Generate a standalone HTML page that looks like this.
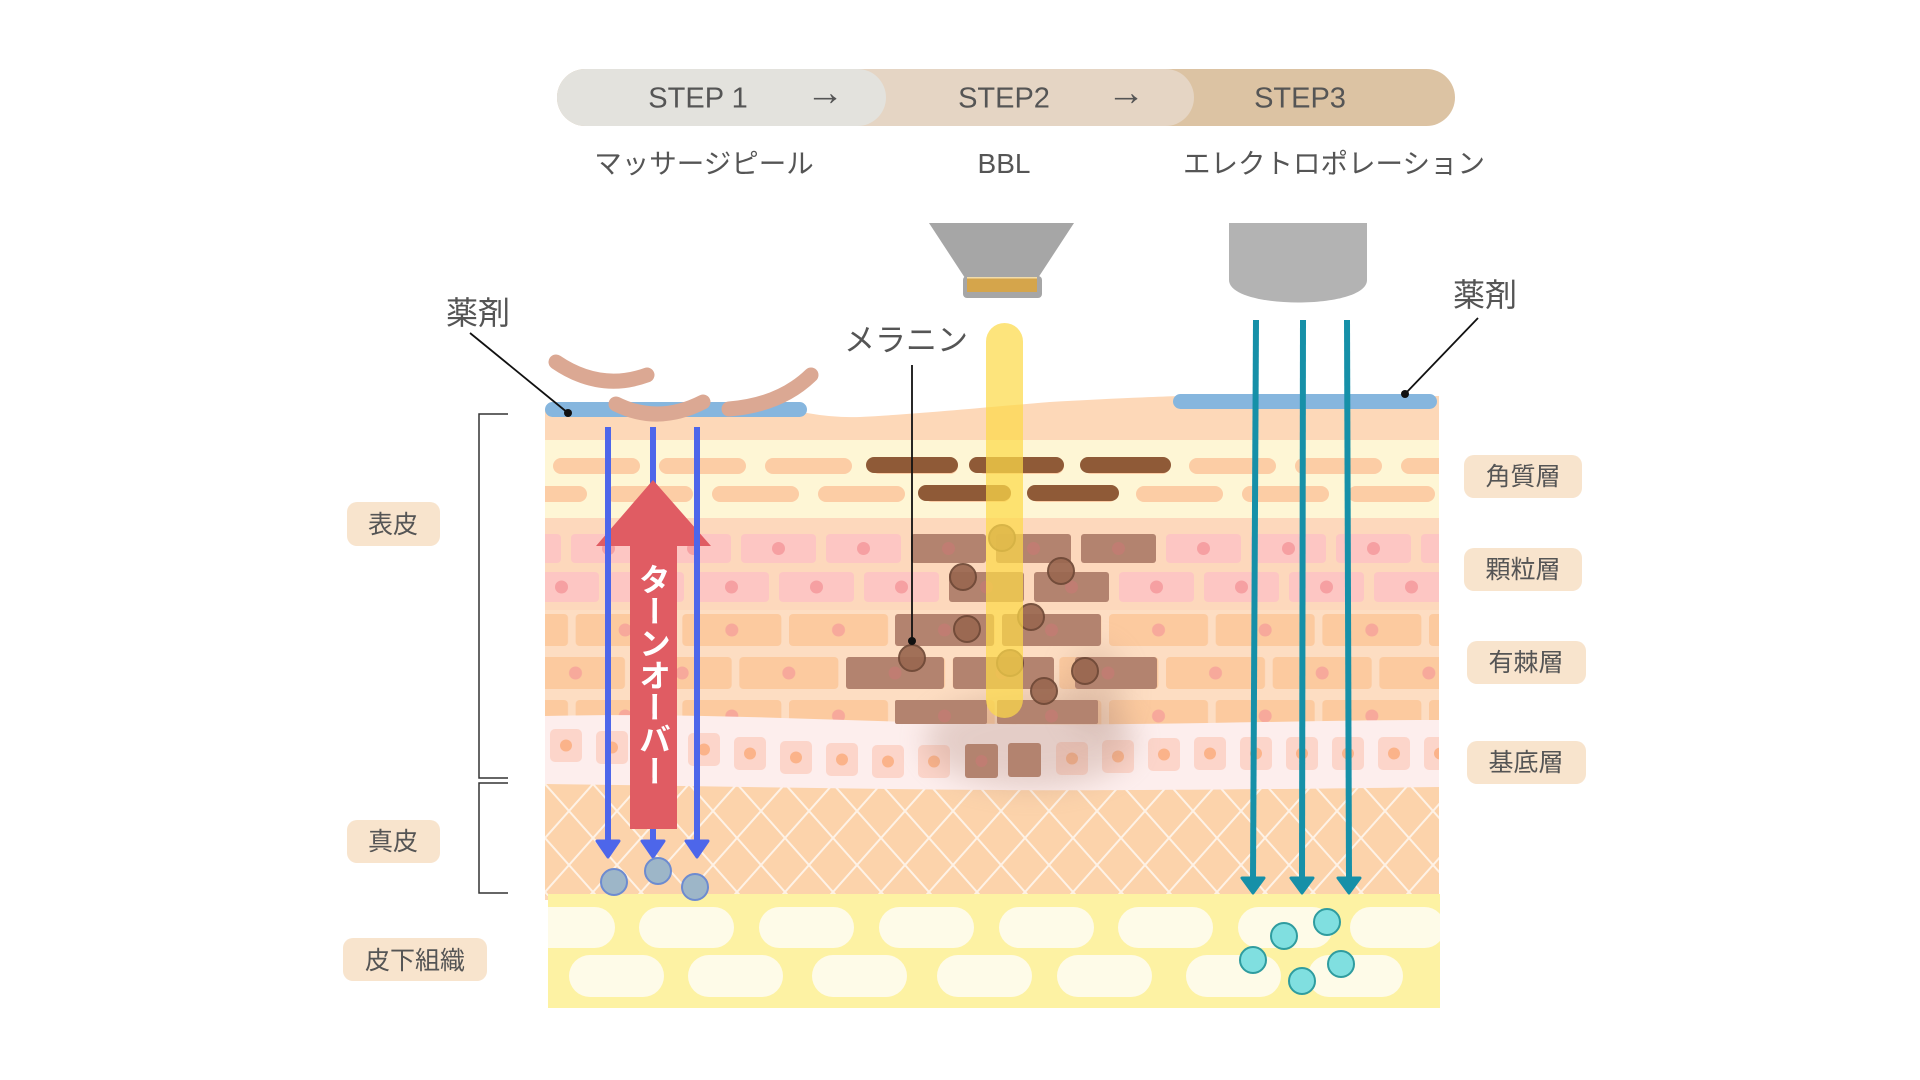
<!DOCTYPE html>
<html><head><meta charset="utf-8">
<style>
html,body{margin:0;padding:0;background:#fff;}
body{width:1920px;height:1080px;overflow:hidden;position:relative;}
svg{position:absolute;left:0;top:0;}
.vt{position:absolute;left:637px;top:563px;width:32px;line-height:32.5px;writing-mode:vertical-rl;font-family:"Liberation Sans","Noto Sans CJK JP",sans-serif;font-weight:bold;font-size:32px;color:#fff;}
</style></head>
<body>
<svg width="1920" height="1080" viewBox="0 0 1920 1080" font-family="'Liberation Sans','Noto Sans CJK JP',sans-serif">
<defs>
  <pattern id="c1" patternUnits="userSpaceOnUse" x="553" y="458" width="106" height="16"><rect x="0" y="0" width="87" height="16" rx="8" fill="#fccda5"/></pattern>
  <pattern id="c2" patternUnits="userSpaceOnUse" x="500" y="486" width="106" height="16"><rect x="0" y="0" width="87" height="16" rx="8" fill="#fccda5"/></pattern>
  <pattern id="g1" patternUnits="userSpaceOnUse" x="486" y="534" width="85" height="29"><rect x="0" y="0" width="75" height="29" rx="4" fill="#fdc6c3"/><circle cx="37.5" cy="14.5" r="6.5" fill="#f6a0a2"/></pattern>
  <pattern id="g2" patternUnits="userSpaceOnUse" x="524" y="572" width="85" height="30"><rect x="0" y="0" width="75" height="30" rx="4" fill="#fdc6c3"/><circle cx="37.5" cy="15" r="6.5" fill="#f6a0a2"/></pattern>
  <pattern id="s3" patternUnits="userSpaceOnUse" x="469" y="614" width="106.67" height="32"><rect x="0" y="0" width="99" height="32" rx="4" fill="#fcca9f"/><circle cx="49.5" cy="16" r="6.5" fill="#f7a99b"/></pattern>
  <pattern id="s4" patternUnits="userSpaceOnUse" x="526" y="657" width="106.67" height="32"><rect x="0" y="0" width="99" height="32" rx="4" fill="#fcca9f"/><circle cx="49.5" cy="16" r="6.5" fill="#f7a99b"/></pattern>
  <pattern id="s5" patternUnits="userSpaceOnUse" x="469" y="700" width="106.67" height="32"><rect x="0" y="0" width="99" height="32" rx="4" fill="#fcca9f"/><circle cx="49.5" cy="16" r="6.5" fill="#f7a99b"/></pattern>
  <pattern id="lat" patternUnits="userSpaceOnUse" x="545" y="784" width="48" height="54"><path d="M0,0 L48,54 M48,0 L0,54" stroke="#fff" stroke-width="2" opacity="0.7" fill="none"/></pattern>
  <clipPath id="skin"><path d="M545,409 L807,413 Q835,418 860,417 C920,414 1000,406 1050,402 C1100,399 1150,397 1180,396 L1439,396 L1439,900 L545,900 Z"/></clipPath>
  <clipPath id="sub"><rect x="548" y="894" width="892" height="114"/></clipPath>
  <filter id="blur" x="-50%" y="-50%" width="200%" height="200%"><feGaussianBlur stdDeviation="14"/></filter>
</defs>

<!-- STEP bar -->
<rect x="557" y="69" width="898" height="57" rx="28.5" fill="#dcc3a3"/>
<rect x="557" y="69" width="637" height="57" rx="28.5" fill="#e5d5c4"/>
<rect x="557" y="69" width="329" height="57" rx="28.5" fill="#e3e2dd"/>
<g fill="#555" font-size="29" text-anchor="middle">
  <text x="698" y="107.5">STEP 1</text>
  <text x="825" y="105" font-size="38">→</text>
  <text x="1004" y="107.5">STEP2</text>
  <text x="1126" y="105" font-size="38">→</text>
  <text x="1300" y="107.5">STEP3</text>
</g>
<g fill="#555" text-anchor="middle">
  <text x="704" y="173" font-size="27.5">マッサージピール</text>
  <text x="1004" y="173" font-size="28">BBL</text>
  <text x="1334" y="173" font-size="27.5">エレクトロポレーション</text>
</g>

<!-- Devices -->
<polygon points="929,223 1074,223 1038,278 965,278" fill="#a6a6a6"/>
<rect x="963" y="276" width="79" height="22" rx="4" fill="#a6a6a6"/>
<rect x="967" y="277" width="70" height="15" fill="#d5a54b"/>
<rect x="967" y="277" width="70" height="1.5" fill="#f2dca8"/>
<path d="M1229,223 L1367,223 L1367,280 C1367,310 1229,310 1229,280 Z" fill="#b3b3b3"/>

<!-- Skin -->
<g clip-path="url(#skin)">
  <rect x="545" y="390" width="894" height="510" fill="#fdd8b8"/>
  <rect x="545" y="440" width="894" height="78" fill="#fef6d5"/>
  <rect x="545" y="458" width="894" height="16" fill="url(#c1)"/>
  <rect x="545" y="486" width="894" height="16" fill="url(#c2)"/>
  <rect x="545" y="518" width="894" height="92" fill="#fdd8bc"/>
  <rect x="545" y="610" width="894" height="130" fill="#fdddc2"/>
  <rect x="545" y="534" width="894" height="29" fill="url(#g1)"/>
  <rect x="545" y="572" width="894" height="30" fill="url(#g2)"/>
  <rect x="545" y="614" width="894" height="32" fill="url(#s3)"/>
  <rect x="545" y="657" width="894" height="32" fill="url(#s4)"/>
  <rect x="545" y="700" width="894" height="32" fill="url(#s5)"/>
  <!-- dermis -->
  <rect x="545" y="775" width="894" height="121" fill="#fcd3ab"/>
  <rect x="545" y="775" width="894" height="121" fill="url(#lat)"/>
  <!-- basal band -->
  <path d="M545,716 C700,712 850,722 1000,724 C1150,726 1300,720 1439,720 L1439,787 C1300,789 1100,791 1000,790 C850,789 700,786 545,784 Z" fill="#fdeeed"/>
  <g fill="#fcd5ca">
    <rect x="550" y="729" width="32" height="33" rx="5"/>
    <rect x="596" y="731" width="32" height="33" rx="5"/>
    <rect x="642" y="732" width="32" height="33" rx="5"/>
    <rect x="688" y="733" width="32" height="33" rx="5"/>
    <rect x="734" y="737" width="32" height="33" rx="5"/>
    <rect x="780" y="741" width="32" height="33" rx="5"/>
    <rect x="826" y="743" width="32" height="33" rx="5"/>
    <rect x="872" y="745" width="32" height="33" rx="5"/>
    <rect x="918" y="745" width="32" height="33" rx="5"/>
    <rect x="1056" y="742" width="32" height="33" rx="5"/>
    <rect x="1102" y="740" width="32" height="33" rx="5"/>
    <rect x="1148" y="738" width="32" height="33" rx="5"/>
    <rect x="1194" y="737" width="32" height="33" rx="5"/>
    <rect x="1240" y="737" width="32" height="33" rx="5"/>
    <rect x="1286" y="737" width="32" height="33" rx="5"/>
    <rect x="1332" y="737" width="32" height="33" rx="5"/>
    <rect x="1378" y="737" width="32" height="33" rx="5"/>
    <rect x="1424" y="737" width="32" height="33" rx="5"/>
  </g>
  <g fill="#fbb38a">
    <circle cx="566" cy="745.5" r="6"/><circle cx="612" cy="747.5" r="6"/><circle cx="658" cy="748.5" r="6"/>
    <circle cx="704" cy="749.5" r="6"/><circle cx="750" cy="753.5" r="6"/><circle cx="796" cy="757.5" r="6"/>
    <circle cx="842" cy="759.5" r="6"/><circle cx="888" cy="761.5" r="6"/><circle cx="934" cy="761.5" r="6"/>
    <circle cx="1072" cy="758.5" r="6"/><circle cx="1118" cy="756.5" r="6"/><circle cx="1164" cy="754.5" r="6"/>
    <circle cx="1210" cy="753.5" r="6"/><circle cx="1256" cy="753.5" r="6"/><circle cx="1302" cy="753.5" r="6"/>
    <circle cx="1348" cy="753.5" r="6"/><circle cx="1394" cy="753.5" r="6"/><circle cx="1440" cy="753.5" r="6"/>
  </g>
  <!-- haze -->
  <ellipse cx="1030" cy="740" rx="105" ry="48" fill="#b08a7a" opacity="0.32" filter="url(#blur)"/>
  <ellipse cx="1095" cy="690" rx="30" ry="45" fill="#b08a7a" opacity="0.25" filter="url(#blur)"/>
  <!-- brown corneum pills -->
  <g fill="#8f5a37">
    <rect x="866" y="457" width="92" height="16" rx="8"/>
    <rect x="969" y="457" width="95" height="16" rx="8"/>
    <rect x="1080" y="457" width="91" height="16" rx="8"/>
    <rect x="918" y="485" width="93" height="16" rx="8"/>
    <rect x="1027" y="485" width="92" height="16" rx="8"/>
  </g>
  <!-- brown cells -->
  <g fill="#b3836f">
    <rect x="911" y="534" width="75" height="29" rx="3"/>
    <rect x="996" y="534" width="75" height="29" rx="3"/>
    <rect x="1081" y="534" width="75" height="29" rx="3"/>
    <rect x="949" y="572" width="75" height="30" rx="3"/>
    <rect x="1034" y="572" width="75" height="30" rx="3"/>
    <rect x="895" y="614" width="99" height="32" rx="3"/>
    <rect x="1002" y="614" width="99" height="32" rx="3"/>
    <rect x="846" y="657" width="98" height="32" rx="3"/>
    <rect x="953" y="657" width="101" height="32" rx="3"/>
    <rect x="1075" y="657" width="82" height="32" rx="3"/>
    <rect x="895" y="700" width="92" height="24" rx="2"/>
    <rect x="997" y="700" width="101" height="24" rx="2"/>
    <rect x="965" y="744" width="33" height="34" rx="3"/>
    <rect x="1008" y="743" width="33" height="34" rx="3"/>
  </g>
  <g fill="#c07d72">
    <circle cx="948.5" cy="548.5" r="6.5"/><circle cx="1033.5" cy="548.5" r="6.5"/><circle cx="1118.5" cy="548.5" r="6.5"/>
    <circle cx="986.5" cy="587" r="6.5"/><circle cx="1071.5" cy="587" r="6.5"/>
    <circle cx="944.5" cy="630" r="6.5"/><circle cx="1051.5" cy="630" r="6.5"/>
    <circle cx="895" cy="673" r="6.5"/><circle cx="1002" cy="673" r="6.5"/><circle cx="1108" cy="673" r="6.5"/>
    <circle cx="944.5" cy="716" r="6.5"/><circle cx="1051.5" cy="716" r="6.5"/>
    <circle cx="981.5" cy="761" r="6"/>
  </g>
</g>

<!-- subcutaneous -->
<rect x="548" y="894" width="892" height="114" fill="#fdf2a3"/>
<g clip-path="url(#sub)" fill="#fefbe8">
  <rect x="520" y="907" width="95" height="41" rx="20.5"/>
  <rect x="639" y="907" width="95" height="41" rx="20.5"/>
  <rect x="759" y="907" width="95" height="41" rx="20.5"/>
  <rect x="879" y="907" width="95" height="41" rx="20.5"/>
  <rect x="999" y="907" width="95" height="41" rx="20.5"/>
  <rect x="1118" y="907" width="95" height="41" rx="20.5"/>
  <rect x="1238" y="907" width="95" height="41" rx="20.5"/>
  <rect x="1350" y="907" width="95" height="41" rx="20.5"/>
  <rect x="569" y="955" width="95" height="42" rx="21"/>
  <rect x="688" y="955" width="95" height="42" rx="21"/>
  <rect x="812" y="955" width="95" height="42" rx="21"/>
  <rect x="937" y="955" width="95" height="42" rx="21"/>
  <rect x="1057" y="955" width="95" height="42" rx="21"/>
  <rect x="1186" y="955" width="95" height="42" rx="21"/>
  <rect x="1308" y="955" width="95" height="42" rx="21"/>
</g>
<g fill="#80dfe0" stroke="#2f9c9f" stroke-width="2">
  <circle cx="1327" cy="922" r="13"/>
  <circle cx="1284" cy="936" r="13"/>
  <circle cx="1253" cy="960" r="13"/>
  <circle cx="1341" cy="964" r="13"/>
  <circle cx="1302" cy="981" r="13"/>
</g>

<!-- medicine bars -->
<rect x="545" y="402" width="262" height="15" rx="7.5" fill="#86b6de"/>
<rect x="1173" y="394" width="264" height="15" rx="7.5" fill="#86b6de"/>
<g stroke="#dba893" stroke-width="15" stroke-linecap="round" fill="none">
  <path d="M556,362 Q600,392 647,375"/>
  <path d="M616,404 Q658,425 703,402"/>
  <path d="M729,409 Q780,405 811,375"/>
</g>

<!-- melanin circles -->
<g fill="#9a6750" stroke="#6e4836" stroke-width="2" opacity="0.92">
  <circle cx="963" cy="577" r="13"/>
  <circle cx="1061" cy="571" r="13"/>
  <circle cx="1031" cy="617" r="13"/>
  <circle cx="967" cy="629" r="13"/>
  <circle cx="912" cy="658" r="13"/>
  <circle cx="1085" cy="671" r="13"/>
  <circle cx="1044" cy="691" r="13"/>
  <circle cx="1002" cy="538" r="13"/>
  <circle cx="1010" cy="663" r="13"/>
</g>

<!-- BBL beam -->
<rect x="986" y="323" width="37" height="395" rx="18.5" fill="#fcd94a" opacity="0.72"/>

<!-- blue arrows & turnover -->
<g stroke="#4d66ea" stroke-width="6">
  <line x1="653" y1="427" x2="653" y2="842"/>
</g>
<polygon points="653,480 711,546 677,546 677,829 630,829 630,546 596,546" fill="#e05c63"/>
<g stroke="#4d66ea" stroke-width="6">
  <line x1="608" y1="427" x2="608" y2="842"/>
  <line x1="697" y1="427" x2="697" y2="842"/>
</g>
<g fill="#4d66ea" stroke="#4d66ea" stroke-width="3" stroke-linejoin="round">
  <polygon points="597,841 619,841 608,857"/>
  <polygon points="642,841 664,841 653,857"/>
  <polygon points="686,841 708,841 697,857"/>
</g>
<g fill="#9db6c8" stroke="#6d8bd0" stroke-width="2">
  <circle cx="614" cy="882" r="13"/>
  <circle cx="658" cy="871" r="13"/>
  <circle cx="695" cy="887" r="13"/>
</g>

<!-- teal arrows -->
<g stroke="#1690a8" stroke-width="6">
  <line x1="1256" y1="320" x2="1253" y2="878"/>
  <line x1="1303" y1="320" x2="1302" y2="878"/>
  <line x1="1347" y1="320" x2="1349" y2="878"/>
</g>
<g fill="#1690a8" stroke="#1690a8" stroke-width="3" stroke-linejoin="round">
  <polygon points="1242,878 1264,878 1253,893"/>
  <polygon points="1291,878 1313,878 1302,893"/>
  <polygon points="1338,878 1360,878 1349,893"/>
</g>

<!-- leaders -->
<g stroke="#111" stroke-width="1.8">
  <line x1="470" y1="333" x2="568" y2="413"/>
  <line x1="1478" y1="318" x2="1405" y2="394"/>
  <line x1="912" y1="365" x2="912" y2="641"/>
</g>
<g fill="#111">
  <circle cx="568" cy="413" r="4"/>
  <circle cx="1405" cy="394" r="4"/>
  <circle cx="912" cy="641" r="4"/>
</g>
<g fill="#555" text-anchor="middle" font-size="32">
  <text x="478" y="324">薬剤</text>
  <text x="1485" y="306">薬剤</text>
  <text x="906" y="351" font-size="31">メラニン</text>
</g>

<!-- brackets -->
<path d="M508,414 H479 V778 H508 M508,783 H479 V893 H508" fill="none" stroke="#333" stroke-width="1.5"/>

<!-- labels -->
<g fill="#f8e4cd">
  <rect x="347" y="502" width="93" height="44" rx="10"/>
  <rect x="347" y="820" width="93" height="43" rx="10"/>
  <rect x="343" y="938" width="144" height="43" rx="10"/>
  <rect x="1464" y="455" width="118" height="43" rx="10"/>
  <rect x="1464" y="548" width="118" height="43" rx="10"/>
  <rect x="1467" y="641" width="119" height="43" rx="10"/>
  <rect x="1467" y="741" width="119" height="43" rx="10"/>
</g>
<g fill="#555" text-anchor="middle" font-size="25">
  <text x="393" y="533">表皮</text>
  <text x="393" y="850">真皮</text>
  <text x="415" y="969">皮下組織</text>
  <text x="1523" y="485">角質層</text>
  <text x="1523" y="578">顆粒層</text>
  <text x="1526" y="671">有棘層</text>
  <text x="1526" y="771">基底層</text>
</g>
</svg>
<div class="vt">ターンオーバー</div>
</body></html>
